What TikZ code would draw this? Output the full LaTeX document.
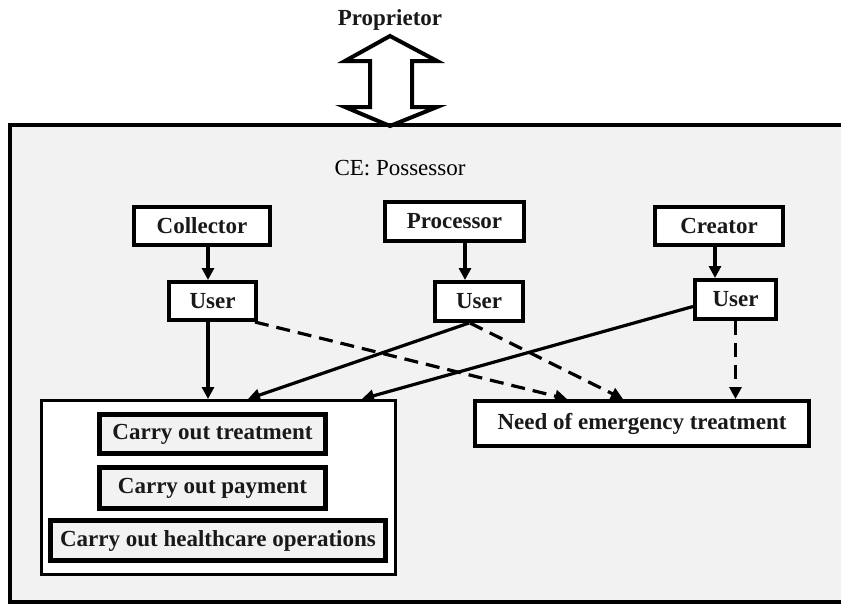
\documentclass[tikz,border=0pt]{standalone}
\usepackage{fontspec}
\setmainfont{Liberation Serif}
\usetikzlibrary{arrows.meta}
\definecolor{panel}{HTML}{F2F2F2}
\tikzset{
  lbl/.style={font=\fontsize{23}{26}\selectfont\bfseries, inner sep=0pt, text=black!90},
  role/.style={lbl, draw, line width=4pt, fill=white},
  task/.style={lbl, draw, line width=5pt, fill=panel},
  arr/.style={line width=3.2pt, -{Triangle[length=12pt,width=12pt]}},
  darr/.style={arr, dash pattern=on 14pt off 8pt}
}
\begin{document}
\begin{tikzpicture}[x=1pt,y=-1pt]
\useasboundingbox (0,0) rectangle (841,605);
% possessor area (runs off the right edge)
\draw[line width=4pt, fill=panel] (10,125) rectangle (860,602);
% two-way arrow to the proprietor
\node[lbl] (prop) at (390,20) {Proprietor};
\draw[line width=4pt, fill=white, line join=miter]
  (390,36) -- (437,61) -- (412,61) -- (412,107) -- (437,107) -- (390,126)
  -- (345,107) -- (370,107) -- (370,61) -- (345,61) -- cycle;
\draw[line width=4pt] (10,125) -- (841,125);

\node[font=\fontsize{23}{26}\selectfont, inner sep=0pt] (ce) at (400,168) {CE: Possessor};

% roles
\node[role, minimum width=136pt, minimum height=38pt] (col) at (202,226) {Collector};
\node[role, minimum width=139pt, minimum height=39pt] (pro) at (454.5,221.5) {Processor};
\node[role, minimum width=128pt, minimum height=38pt] (cre) at (719,226) {Creator};
\node[role, minimum width=87pt, minimum height=38pt] (u1) at (212.5,301) {User};
\node[role, minimum width=88pt, minimum height=39pt] (u2) at (479,301.5) {User};
\node[role, minimum width=81pt, minimum height=39pt] (u3) at (735.5,299.5) {User};

% permitted uses
\node[draw, line width=3pt, fill=white, minimum width=354pt, minimum height=174pt] (uses) at (218.5,487.5) {};
\node[task, minimum width=226pt, minimum height=39pt] (t1) at (212.5,434) {Carry out treatment};
\node[task, minimum width=226pt, minimum height=41pt] (t2) at (212.5,488) {Carry out payment};
\node[task, minimum width=335pt, minimum height=40pt] (t3) at (218,540.5) {Carry out healthcare operations};

\node[role, minimum width=334pt, minimum height=45pt] (need) at (642,423.5) {Need of emergency treatment};

% role to user
\draw[arr] ([xshift=6pt]col.south) -- ([xshift=6pt]col.south |- u1.north);
\draw[arr] ([xshift=10.5pt]pro.south) -- ([xshift=10.5pt]pro.south |- u2.north);
\draw[arr] ([xshift=-4pt]cre.south) -- ([xshift=-4pt]cre.south |- u3.north);

% users to permitted uses
\draw[arr] ([xshift=-4.5pt]u1.south) -- ([xshift=-4.5pt]u1.south |- uses.north);
\draw[arr] ([xshift=-10pt]u2.south) -- ([xshift=29.5pt]uses.north);
\draw[arr] ([yshift=-7pt]u3.west) -- ([xshift=143.5pt]uses.north);

% users to emergency treatment
\draw[darr] ([xshift=-3pt]u1.south east) -- ([xshift=-75pt]need.north);
\draw[darr] ([xshift=-9pt]u2.south) -- ([xshift=-19pt]need.north);
\draw[darr] (u3.south) -- (u3.south |- need.north);
\end{tikzpicture}
\end{document}
